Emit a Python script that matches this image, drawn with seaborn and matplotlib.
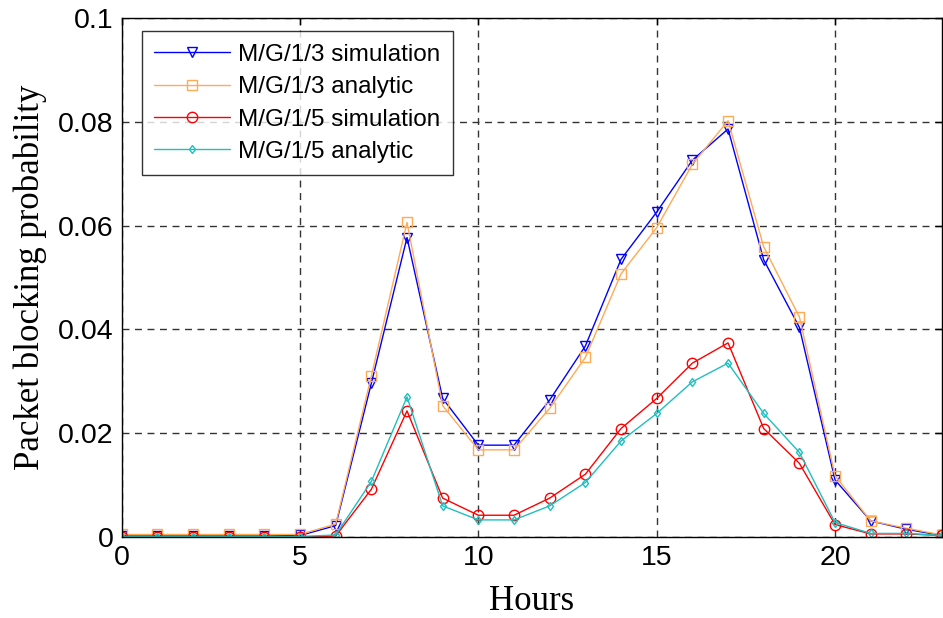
import numpy as np
import pandas as pd
import matplotlib
matplotlib.use("Agg")
import matplotlib.pyplot as plt
import seaborn as sns

hours = list(range(24))
sim3 = [0.0002, 0.0002, 0.0002, 0.0002, 0.0002, 0.0003, 0.0022, 0.0296, 0.0577, 0.0267,
        0.0177, 0.0177, 0.0264, 0.0368, 0.0535, 0.0626, 0.0726, 0.0786, 0.0534, 0.0404,
        0.0110, 0.0031, 0.0015, 0.0003]
ana3 = [0.0005, 0.0005, 0.0005, 0.0005, 0.0005, 0.0005, 0.0025, 0.0310, 0.0606, 0.0253,
        0.0168, 0.0168, 0.0248, 0.0346, 0.0507, 0.0596, 0.0718, 0.0802, 0.0559, 0.0424,
        0.0118, 0.0031, 0.0017, 0.0004]
sim5 = [0.0, 0.0, 0.0, 0.0, 0.0, 0.0, 0.0002, 0.0092, 0.0243, 0.0075,
        0.0042, 0.0042, 0.0075, 0.0121, 0.0209, 0.0267, 0.0335, 0.0374, 0.0209, 0.0142,
        0.0024, 0.0006, 0.0006, 0.0003]
ana5 = [0.0001, 0.0001, 0.0001, 0.0001, 0.0001, 0.0001, 0.0004, 0.0107, 0.0270, 0.0060,
        0.0033, 0.0033, 0.0060, 0.0105, 0.0185, 0.0238, 0.0299, 0.0335, 0.0238, 0.0163,
        0.0028, 0.0007, 0.0007, 0.0003]

labels = ["M/G/1/3 simulation", "M/G/1/3 analytic", "M/G/1/5 simulation", "M/G/1/5 analytic"]
series = [sim3, ana3, sim5, ana5]
colors = ["#0000FF", "#FFAA55", "#FF0000", "#20BFBF"]
markers = ["v", "s", "o", "d"]
msizes = [6.5, 7, 7.5, 4.5]

sns.set_style("white")
plt.rcParams["font.family"] = ["Liberation Sans", "DejaVu Sans"]
plt.rcParams["text.color"] = "black"
plt.rcParams["axes.labelcolor"] = "black"

fig = plt.figure(figsize=(9.43, 6.18), dpi=100)
ax = fig.add_axes([0.129, 0.131, 0.870, 0.840])

for lab, vals, c, m, ms in zip(labels, series, colors, markers, msizes):
    df = pd.DataFrame({"Hours": hours, "p": vals})
    sns.lineplot(data=df, x="Hours", y="p", ax=ax, color=c, marker=m, markersize=ms,
                 markerfacecolor="none", markeredgecolor=c, markeredgewidth=1.0,
                 linewidth=1.0, label=lab)

ax.set_xlim(0, 23)
ax.set_ylim(0, 0.1)
ax.set_xticks([0, 5, 10, 15, 20])
ax.set_yticks([0, 0.02, 0.04, 0.06, 0.08, 0.1])
ax.set_yticklabels(["0", "0.02", "0.04", "0.06", "0.08", "0.1"])
ax.tick_params(direction="in", length=5, width=1, labelsize=20.5, top=True, right=True,
               colors="black", pad=6)
ax.grid(True, linestyle=(0, (5, 4)), color="#333333", linewidth=1.0)
for s in ax.spines.values():
    s.set_visible(True)
    s.set_color("black")
    s.set_linewidth(1.0)

ax.set_xlabel("Hours", family=["Liberation Serif"], fontsize=25, labelpad=10, color="black")
ax.set_ylabel("Packet blocking probability", family=["Liberation Serif"], fontsize=25,
              labelpad=8, color="black")

leg = ax.legend(loc="upper left", bbox_to_anchor=(0.025, 0.974), fontsize=17.5, frameon=True,
                fancybox=False, edgecolor="black", handlelength=3.1, borderpad=0.5,
                labelspacing=0.43, handletextpad=0.35, borderaxespad=0, labelcolor="black")
leg.get_frame().set_linewidth(1.0)

fig.savefig("out.png", dpi=100)
